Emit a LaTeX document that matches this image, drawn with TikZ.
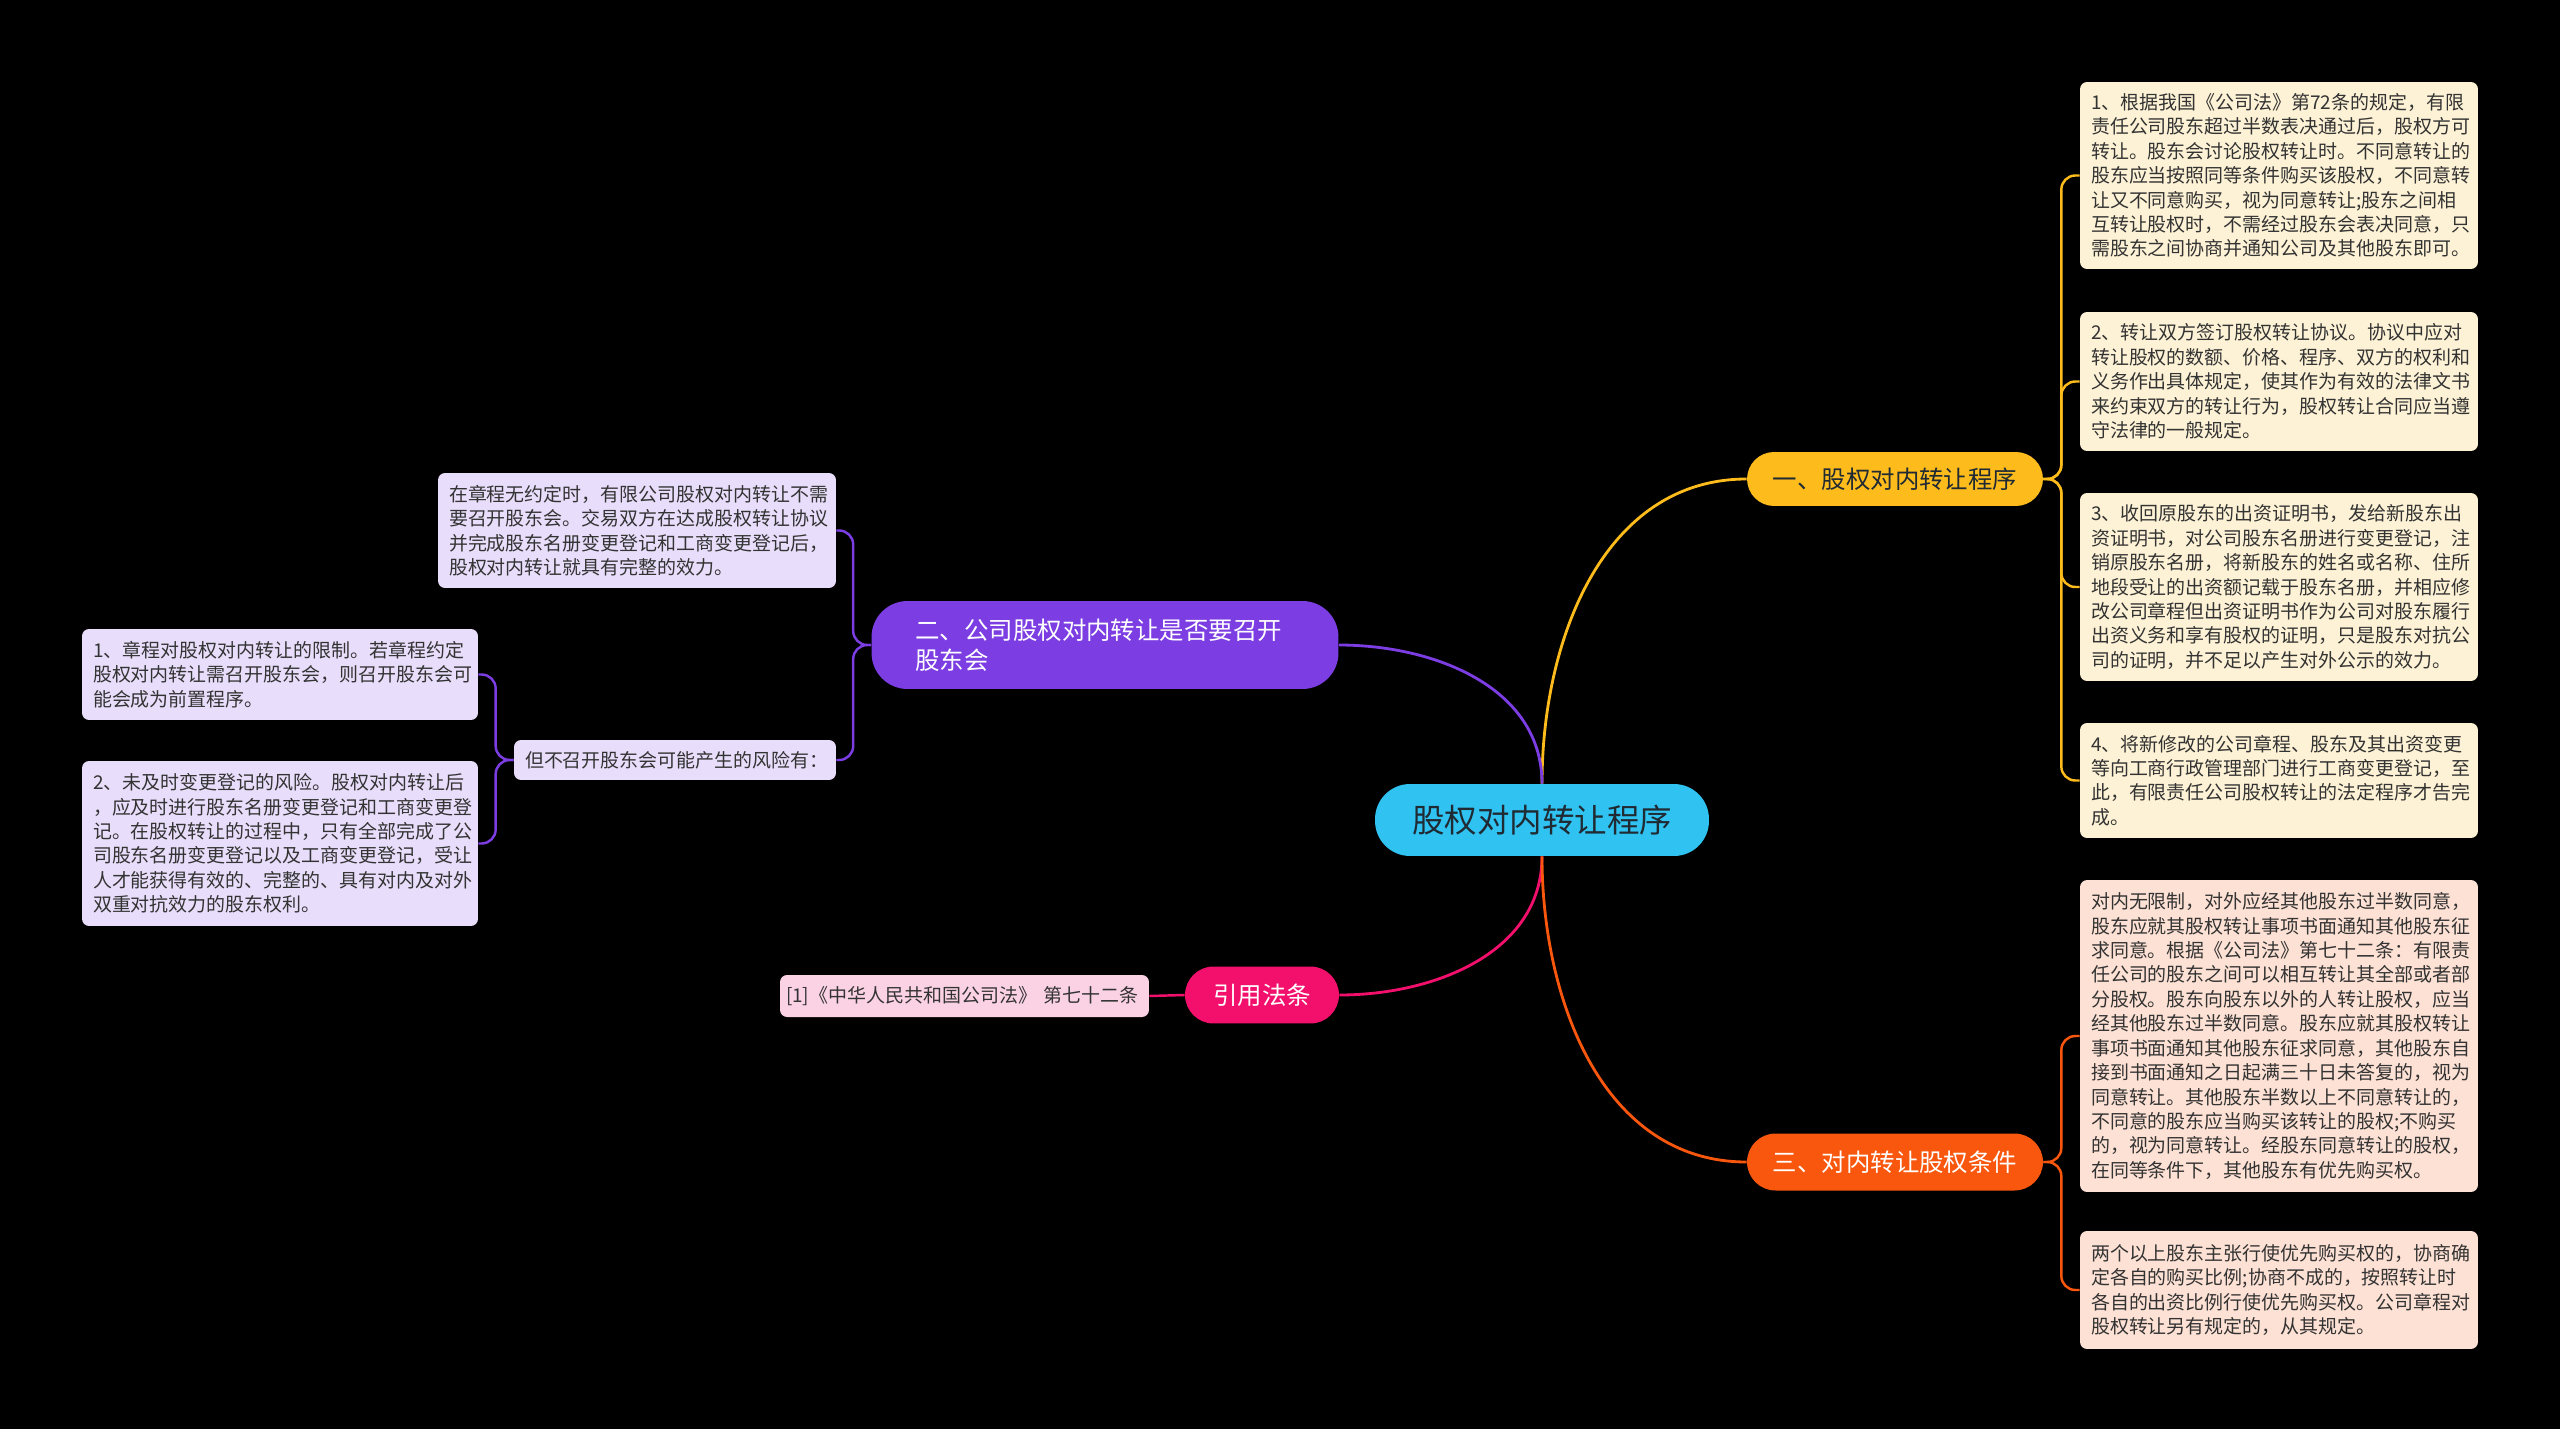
\documentclass[tikz,border=0pt]{standalone}
\usepackage{fontspec}
\setmainfont{Noto Sans CJK SC}
\usepackage{tikz}
\usetikzlibrary{positioning}
\usepackage{xcolor}
\definecolor{rootcyan}{HTML}{30C3F2}
\definecolor{yelbr}{HTML}{FDBB1C}
\definecolor{purbr}{HTML}{7C3DE3}
\definecolor{pinkbr}{HTML}{F2106C}
\definecolor{orgbr}{HTML}{F9570D}
\definecolor{yelleaf}{HTML}{FDF2D5}
\definecolor{purleaf}{HTML}{E8DDFA}
\definecolor{orgleaf}{HTML}{FDE1D4}
\definecolor{pinkleaf}{HTML}{FBD2E4}
\definecolor{leaftext}{HTML}{333333}
\definecolor{darktext}{HTML}{1F2A33}

\begin{document}
\begin{tikzpicture}[
    x=0.02cm, y=-0.02cm,
    leaf/.style={rectangle, rounded corners=4pt, align=left, text=leaftext,
      inner xsep=0.22cm, inner ysep=0pt, text width=7.52cm,
      font=\fontsize{10.8pt}{13.9pt}\selectfont},
    branch/.style={rectangle, rounded corners=#1, inner sep=0pt,
      font=\fontsize{13.9pt}{17pt}\selectfont},
    link/.style={line width=1.6pt},
    twig/.style={line width=1.4pt, rounded corners=8pt},
  ]
    \useasboundingbox (0,0) rectangle (2560,1429);
    \fill[black] (0,0) rectangle (2560,1429);
    % root
    \node[rectangle, rounded corners=0.7cm, fill=rootcyan, text=darktext,
          minimum width=6.68cm, minimum height=1.44cm,
          font=\fontsize{18.5pt}{22pt}\selectfont] (root) at (1542,820) {股权对内转让程序};
    % main branches
    \node[branch=0.54cm, fill=yelbr, text=darktext, minimum width=5.92cm, minimum height=1.08cm]
          (b1) at (1895,479) {一、股权对内转让程序};
    \node[branch=0.72cm, fill=purbr, text=white, minimum width=9.34cm, minimum height=1.76cm,
          inner xsep=0.88cm, text width=7.58cm, align=left]
          (b2) at (1105,645) {二、公司股权对内转让是否要召开\\股东会};
    \node[branch=0.57cm, fill=pinkbr, text=white, minimum width=3.08cm, minimum height=1.14cm]
          (b3) at (1262,995) {引用法条};
    \node[branch=0.57cm, fill=orgbr, text=white, minimum width=5.92cm, minimum height=1.14cm]
          (b4) at (1895,1162) {三、对内转让股权条件};
    % leaves of branch one
    \node[leaf, fill=yelleaf, minimum height=3.74cm] (l1) at (2279,175.5)
      {1、根据我国《公司法》第72条的规定，有限\\责任公司股东超过半数表决通过后，股权方可\\转让。股东会讨论股权转让时。不同意转让的\\股东应当按照同等条件购买该股权，不同意转\\让又不同意购买，视为同意转让;股东之间相\\互转让股权时，不需经过股东会表决同意，只\\需股东之间协商并通知公司及其他股东即可。};
    \node[leaf, fill=yelleaf, minimum height=2.78cm] (l2) at (2279,381.5)
      {2、转让双方签订股权转让协议。协议中应对\\转让股权的数额、价格、程序、双方的权利和\\义务作出具体规定，使其作为有效的法律文书\\来约束双方的转让行为，股权转让合同应当遵\\守法律的一般规定。};
    \node[leaf, fill=yelleaf, minimum height=3.76cm] (l3) at (2279,587)
      {3、收回原股东的出资证明书，发给新股东出\\资证明书，对公司股东名册进行变更登记，注\\销原股东名册，将新股东的姓名或名称、住所\\地段受让的出资额记载于股东名册，并相应修\\改公司章程但出资证明书作为公司对股东履行\\出资义务和享有股权的证明，只是股东对抗公\\司的证明，并不足以产生对外公示的效力。};
    \node[leaf, fill=yelleaf, minimum height=2.30cm] (l4) at (2279,780.5)
      {4、将新修改的公司章程、股东及其出资变更\\等向工商行政管理部门进行工商变更登记，至\\此，有限责任公司股权转让的法定程序才告完\\成。};
    % leaves of branch three
    \node[leaf, fill=orgleaf, minimum height=6.24cm] (l5) at (2279,1036)
      {对内无限制，对外应经其他股东过半数同意，\\股东应就其股权转让事项书面通知其他股东征\\求同意。根据《公司法》第七十二条：有限责\\任公司的股东之间可以相互转让其全部或者部\\分股权。股东向股东以外的人转让股权，应当\\经其他股东过半数同意。股东应就其股权转让\\事项书面通知其他股东征求同意，其他股东自\\接到书面通知之日起满三十日未答复的，视为\\同意转让。其他股东半数以上不同意转让的，\\不同意的股东应当购买该转让的股权;不购买\\的，视为同意转让。经股东同意转让的股权，\\在同等条件下，其他股东有优先购买权。};
    \node[leaf, fill=orgleaf, minimum height=2.36cm] (l6) at (2279,1290)
      {两个以上股东主张行使优先购买权的，协商确\\定各自的购买比例;协商不成的，按照转让时\\各自的出资比例行使优先购买权。公司章程对\\股权转让另有规定的，从其规定。};
    % leaves of branch two
    \node[leaf, fill=purleaf, minimum height=2.30cm] (p1) at (637,530.5)
      {在章程无约定时，有限公司股权对内转让不需\\要召开股东会。交易双方在达成股权转让协议\\并完成股东名册变更登记和工商变更登记后，\\股权对内转让就具有完整的效力。};
    \node[leaf, fill=purleaf, minimum height=0.80cm, text width=6.0cm] (p2) at (675,760)
      {但不召开股东会可能产生的风险有：};
    \node[leaf, fill=purleaf, minimum height=1.82cm, text width=7.48cm] (p2a) at (280,674.5)
      {1、章程对股权对内转让的限制。若章程约定\\股权对内转让需召开股东会，则召开股东会可\\能会成为前置程序。};
    \node[leaf, fill=purleaf, minimum height=3.30cm, text width=7.48cm] (p2b) at (280,843.5)
      {2、未及时变更登记的风险。股权对内转让后\\，应及时进行股东名册变更登记和工商变更登\\记。在股权转让的过程中，只有全部完成了公\\司股东名册变更登记以及工商变更登记，受让\\人才能获得有效的、完整的、具有对内及对外\\双重对抗效力的股东权利。};
    % citation
    \node[leaf, fill=pinkleaf, minimum height=0.84cm, inner xsep=0.12cm, text width=7.14cm]
      (cite) at (964.5,996) {\mbox{[1]《中华人民共和国公司法》 第七十二条}};
    % root to branches
    \draw[link, yelbr] (root.north) to[out=90, in=180] (b1.west);
    \draw[link, purbr] (root.north) to[out=90, in=0] (b2.east);
    \draw[link, pinkbr] (root.south) to[out=-90, in=0] (b3.east);
    \draw[link, orgbr] (root.south) to[out=-90, in=180] (b4.west);
    % branches to leaves
    \foreach \n in {l1,l2,l3,l4}
      \draw[twig, yelbr] (b1.east) -- ++(18,0) |- (\n.west);
    \foreach \n in {l5,l6}
      \draw[twig, orgbr] (b4.east) -- ++(18,0) |- (\n.west);
    \foreach \n in {p1,p2}
      \draw[twig, purbr] (b2.west) -- ++(-18,0) |- (\n.east);
    \foreach \n in {p2a,p2b}
      \draw[twig, purbr] (p2.west) -- ++(-18,0) |- (\n.east);
    \draw[twig, pinkbr] (b3.west) -- (cite.east);
  \end{tikzpicture}
\end{document}
